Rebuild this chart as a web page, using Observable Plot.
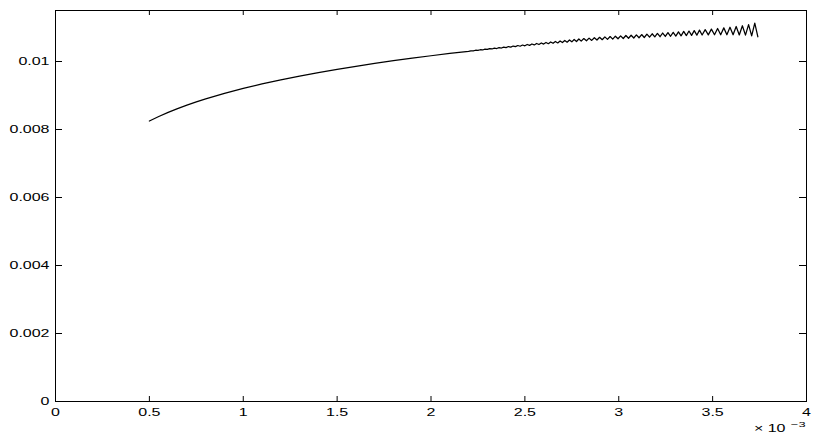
<!DOCTYPE html>
<html><head><meta charset="utf-8">
<script src="https://cdn.jsdelivr.net/npm/d3@7"></script>
<script src="https://cdn.jsdelivr.net/npm/@observablehq/plot@0.6"></script>
<style>
html,body{margin:0;padding:0;background:#fff;}
svg{display:block}
</style></head><body><div id="chart"></div>
<script>
// x values in units of 10^-3 (as the axis shows), y values in units of 10^-3
const curveX = [
0.5,0.55,0.6,0.65,0.7,0.75,0.8,0.9,1.0,1.1,1.2,1.3,1.4,1.5,1.6,1.7,1.8,1.9,2.0,2.1,2.2,
2.2125,2.225,2.2375,2.25,2.2625,2.275,2.2875,2.3,
2.3125,2.325,2.3375,2.35,2.3625,2.375,2.3875,2.4,
2.4125,2.425,2.4375,2.45,2.4625,2.475,2.4875,2.5,
2.5125,2.525,2.5375,2.55,2.5625,2.575,2.5875,2.6,
2.6125,2.625,2.6375,2.65,2.6625,2.675,2.6875,2.7,
2.7125,2.725,2.7375,2.75,2.7625,2.775,2.7875,2.8,
2.814,2.828,2.842,2.856,2.870,2.884,2.898,2.912,2.926,2.940,
2.954,2.968,2.982,2.996,3.010,3.024,3.038,3.052,3.066,3.080,
3.094,3.108,3.122,3.136,3.150,3.164,3.178,3.192,3.206,3.220,
3.234,3.248,3.262,3.276,3.290,3.304,3.318,3.332,3.346,3.360,
3.374,3.388,3.402,3.416,3.430,3.444,
3.4605,3.477,3.4935,3.510,3.5265,3.543,3.5595,3.576,3.5925,3.609,
3.6255,3.642,3.6585,3.675,3.6915,3.708,3.7245,3.741
];
const curveY = [
8.250,8.382,8.502,8.613,8.716,8.811,8.900,9.063,9.209,9.341,9.462,9.572,9.675,9.770,9.860,9.944,10.023,10.098,10.169,10.236,10.301,
10.315,10.310,10.331,10.325,10.346,10.339,10.362,10.354,
10.378,10.368,10.393,10.382,10.409,10.396,10.424,10.410,
10.440,10.423,10.455,10.436,10.470,10.449,10.485,10.462,
10.500,10.475,10.515,10.487,10.530,10.500,10.545,10.512,
10.559,10.523,10.574,10.535,10.589,10.546,10.604,10.557,
10.618,10.568,10.633,10.578,10.647,10.589,10.662,10.599,
10.675,10.610,10.688,10.620,10.700,10.631,10.712,10.641,10.723,10.650,
10.734,10.659,10.744,10.668,10.754,10.676,10.764,10.683,10.773,10.691,
10.782,10.698,10.793,10.706,10.805,10.715,10.816,10.723,10.827,10.729,
10.838,10.736,10.849,10.742,10.859,10.748,10.871,10.755,10.884,10.762,
10.896,10.769,10.909,10.774,10.922,10.778,
10.936,10.782,10.952,10.785,10.970,10.786,10.989,10.787,11.008,10.786,
11.029,10.780,11.052,10.775,11.083,10.752,11.127,10.727
];
const xTicks = [0,0.5,1,1.5,2,2.5,3,3.5,4];
const xTickLabels = ["0","0.5","1","1.5","2","2.5","3","3.5","4"];
const yTicks = [0,0.002,0.004,0.006,0.008,0.01];
const yTickLabels = ["0","0.002","0.004","0.006","0.008","0.01"];
const xMultiplierBase = ["× 10"];
const xMultiplierExp = ["−3"];

const data = curveX.map((x, i) => ({x, y: curveY[i] * 1e-3}));

const W = 817, H = 436, mL = 55, mR = 11, mT = 10, mB = 35;
const frameW = W - mL - mR, frameH = H - mT - mB;

const chart = Plot.plot({
  width: W, height: H,
  marginLeft: mL, marginRight: mR, marginTop: mT, marginBottom: mB,
  style: {fontFamily: "'Liberation Sans', Arial, Helvetica, sans-serif", fontSize: "10px", background: "#fff", color: "#000"},
  x: {domain: [0, 4], label: null},
  y: {domain: [0, 0.0115], label: null},
  marks: [
    Plot.axisX(xTicks, {tickSize: 0, tickPadding: 7, label: null, tickFormat: d => xTickLabels[xTicks.indexOf(d)]}),
    Plot.axisY(yTicks, {tickSize: 0, tickPadding: 6, label: null, tickFormat: d => yTickLabels[yTicks.indexOf(d)]}),
    Plot.tickX(xTicks, {x: d => d, insetTop: frameH - 5, stroke: "#000"}),
    Plot.tickX(xTicks, {x: d => d, insetBottom: frameH - 5, stroke: "#000"}),
    Plot.tickY(yTicks, {y: d => d, insetRight: frameW - 7, stroke: "#000"}),
    Plot.tickY(yTicks, {y: d => d, insetLeft: frameW - 7, stroke: "#000"}),
    Plot.frame({stroke: "#000"}),
    Plot.line(data, {x: "x", y: "y", stroke: "#000", strokeWidth: 1.25}),
    Plot.text(xMultiplierBase, {frameAnchor: "bottom-right", text: d => d, textAnchor: "end", dx: -21, dy: 30.5, fontSize: 10}),
    Plot.text(xMultiplierExp, {frameAnchor: "bottom-right", text: d => d, textAnchor: "end", dx: -1, dy: 25.5, fontSize: 8})
  ]
});

// The reference's lettering is horizontally stretched; widen each label about its anchor
chart.querySelectorAll("text").forEach(t => {
  const tr = t.getAttribute("transform");
  if (tr) {
    t.setAttribute("transform", tr + " scale(1.6,1)");
  } else {
    const x = t.getAttribute("x") || 0, y = t.getAttribute("y") || 0;
    t.setAttribute("x", 0); t.setAttribute("y", 0);
    t.setAttribute("transform", `translate(${x},${y}) scale(1.6,1)`);
  }
});

document.getElementById("chart").appendChild(chart);
</script>
</body></html>
